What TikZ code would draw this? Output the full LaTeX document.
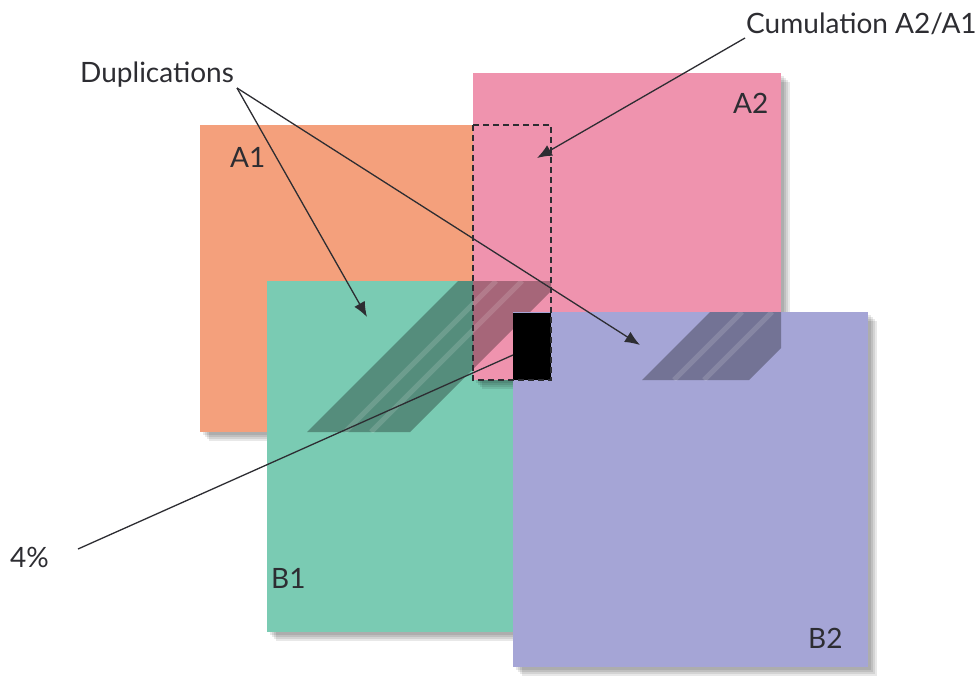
\documentclass[tikz,border=0pt]{standalone}
\usepackage{fontspec}
\setmainfont{Lato}
\usetikzlibrary{arrows.meta,positioning}
\definecolor{SheetOrange}{RGB}{244,160,124}
\definecolor{SheetPink}{RGB}{239,147,174}
\definecolor{SheetGreen}{RGB}{122,203,179}
\definecolor{SheetLilac}{RGB}{165,165,214}
\definecolor{InkGray}{RGB}{45,45,50}

% soft drop shadow under a sheet
\newcommand{\sheetshadow}[2]{%
  \foreach \d in {3,5,7,9}
    \fill[black,opacity=0.09,shift={(\d,\d)}] (#1) rectangle (#2);}

\begin{document}
\begin{tikzpicture}[x=1pt,y=-1pt,>={Latex[length=15pt,width=12pt]},
    lbl/.style={text=InkGray,font=\fontsize{28}{30}\selectfont,inner sep=0pt,anchor=base west},
    pointer/.style={->,InkGray,line width=1.3pt},
    band/.style={fill=black,opacity=0.3},
    streak/.style={white,opacity=0.14,line width=5pt}]
  \fill[white] (0,0) rectangle (979,677);

  % A1
  \sheetshadow{200,125}{551,432}
  \fill[SheetOrange] (200,125) rectangle (551,432);
  % B1
  \sheetshadow{267,281}{620,632}
  \fill[SheetGreen] (267,281) rectangle (620,632);
  % A2
  \sheetshadow{473,73}{781,380}
  \fill[SheetPink] (473,73) rectangle (781,380);

  % duplicated strip A1/B1
  \begin{scope}
    \clip (200,281) rectangle (551,432);
    \fill[band] (307,432)--(410,432)--(561,281)--(458,281)--cycle;
    \foreach \a in {38,64}
      \draw[streak] (307+\a,432)--(458+\a,281);
  \end{scope}

  % B2
  \sheetshadow{513,312}{868,667}
  \fill[SheetLilac] (513,312) rectangle (868,667);

  % duplicated strip A2/B2
  \begin{scope}
    \clip (513,312) rectangle (781,380);
    \fill[band] (642,380)--(749,380)--(817,312)--(710,312)--cycle;
    \foreach \a in {32,62}
      \draw[streak] (642+\a,380)--(710+\a,312);
  \end{scope}

  \fill[black] (513,313) rectangle (551,380);
  \draw[InkGray,line width=1.3pt,dash pattern=on 6pt off 4pt] (473,125) rectangle (551,380);

  \node[lbl] (a1) at (230,167) {A1};
  \node[lbl] (a2) at (733,113) {A2};
  \node[lbl] (b1) at (271,588) {B1};
  \node[lbl] (b2) at (808,648) {B2};

  \node[lbl] (dup) at (80,82) {Duplications};
  \node[lbl] (cum) at (746,34) {Cumulation A2/A1};
  \node[lbl] (pct) at (10,567) {4\%};

  \coordinate (fork) at (237,88);
  \coordinate (dupB1) at (367,317);
  \coordinate (dupB2) at (640,345);
  \coordinate (cumfrom) at (745,38);
  \coordinate (cumto) at (537,158);
  \coordinate (pctfrom) at (78,549);
  \coordinate (pctto) at (513,355);

  \draw[pointer] (fork)--(dupB1);
  \draw[pointer] (fork)--(dupB2);
  \draw[pointer] (cumfrom)--(cumto);
  \draw[InkGray,line width=1.3pt] (pctfrom)--(pctto);
\end{tikzpicture}
\end{document}
